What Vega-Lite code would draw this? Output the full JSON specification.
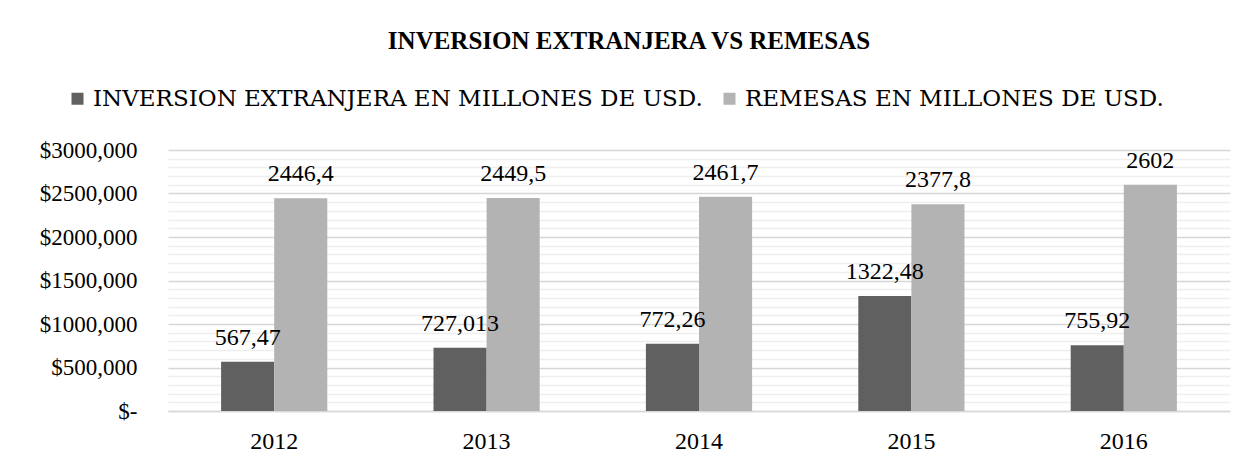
{
  "$schema": "https://vega.github.io/schema/vega-lite/v6.json",
  "autosize": {"type": "none"},
  "padding": {"left": 168, "top": 150, "right": 27, "bottom": 58},
  "width": 1062,
  "height": 261,
  "background": "white",
  "title": {
    "text": "INVERSION EXTRANJERA VS REMESAS",
    "font": "Liberation Serif",
    "fontSize": 25,
    "fontWeight": "bold",
    "color": "#000000",
    "anchor": "middle",
    "frame": "group",
    "baseline": "bottom",
    "offset": 8,
    "dx": -70
  },
  "data": {
    "values": [
      {"year": "2012", "series": "INVERSION EXTRANJERA EN MILLONES DE USD.", "value": 567.47, "label": "567,47"},
      {"year": "2012", "series": "REMESAS  EN MILLONES DE USD.", "value": 2446.4, "label": "2446,4"},
      {"year": "2013", "series": "INVERSION EXTRANJERA EN MILLONES DE USD.", "value": 727.013, "label": "727,013"},
      {"year": "2013", "series": "REMESAS  EN MILLONES DE USD.", "value": 2449.5, "label": "2449,5"},
      {"year": "2014", "series": "INVERSION EXTRANJERA EN MILLONES DE USD.", "value": 772.26, "label": "772,26"},
      {"year": "2014", "series": "REMESAS  EN MILLONES DE USD.", "value": 2461.7, "label": "2461,7"},
      {"year": "2015", "series": "INVERSION EXTRANJERA EN MILLONES DE USD.", "value": 1322.48, "label": "1322,48"},
      {"year": "2015", "series": "REMESAS  EN MILLONES DE USD.", "value": 2377.8, "label": "2377,8"},
      {"year": "2016", "series": "INVERSION EXTRANJERA EN MILLONES DE USD.", "value": 755.92, "label": "755,92"},
      {"year": "2016", "series": "REMESAS  EN MILLONES DE USD.", "value": 2602, "label": "2602"}
    ]
  },
  "encoding": {
    "x": {
      "field": "year",
      "type": "nominal",
      "scale": {"paddingInner": 0.5, "paddingOuter": 0.25},
      "axis": {
        "title": null,
        "labelAngle": 0,
        "labelFont": "Liberation Serif",
        "labelFontSize": 24,
        "labelColor": "#000000",
        "labelPadding": 18,
        "ticks": false,
        "domainColor": "#d9d9d9",
        "domainWidth": 1.5
      }
    },
    "xOffset": {
      "field": "series",
      "type": "nominal",
      "sort": ["INVERSION EXTRANJERA EN MILLONES DE USD.", "REMESAS  EN MILLONES DE USD."],
      "scale": {"paddingInner": 0, "paddingOuter": 0}
    },
    "y": {
      "field": "value",
      "type": "quantitative",
      "scale": {"domain": [0, 3000], "nice": false},
      "axis": {
        "title": null,
        "values": [0, 100, 200, 300, 400, 500, 600, 700, 800, 900, 1000, 1100, 1200, 1300, 1400, 1500, 1600, 1700, 1800, 1900, 2000, 2100, 2200, 2300, 2400, 2500, 2600, 2700, 2800, 2900, 3000],
        "labelExpr": "datum.value % 500 != 0 ? '' : (datum.value == 0 ? '$-' : '$' + datum.value + ',000')",
        "labelFont": "Liberation Serif",
        "labelFontSize": 23,
        "labelColor": "#000000",
        "labelPadding": 31,
        "ticks": false,
        "domain": false,
        "grid": true,
        "gridColor": {"condition": {"test": "datum.value % 500 == 0", "value": "#d6d6d6"}, "value": "#eeeeee"},
        "gridWidth": 1.6
      }
    }
  },
  "layer": [
    {
      "mark": {"type": "bar"},
      "encoding": {
        "color": {
          "field": "series",
          "type": "nominal",
          "sort": ["INVERSION EXTRANJERA EN MILLONES DE USD.", "REMESAS  EN MILLONES DE USD."],
          "scale": {"range": ["#606060", "#b3b3b3"]},
          "legend": {
            "title": null,
            "orient": "none",
            "direction": "horizontal",
            "legendX": -102,
            "legendY": -63,
            "symbolType": "square",
            "symbolSize": 144,
            "symbolStrokeWidth": 0,
            "labelFont": "DejaVu Serif",
            "labelFontSize": 23,
            "labelColor": "#000000",
            "labelLimit": 900,
            "labelOffset": 4,
            "columnPadding": 15
          }
        }
      }
    },
    {
      "mark": {
        "type": "text",
        "font": "Liberation Serif",
        "fontSize": 24,
        "color": "#000000",
        "baseline": "alphabetic",
        "dy": -17
      },
      "encoding": {
        "text": {"field": "label"}
      }
    }
  ],
  "config": {
    "view": {"stroke": null}
  }
}
